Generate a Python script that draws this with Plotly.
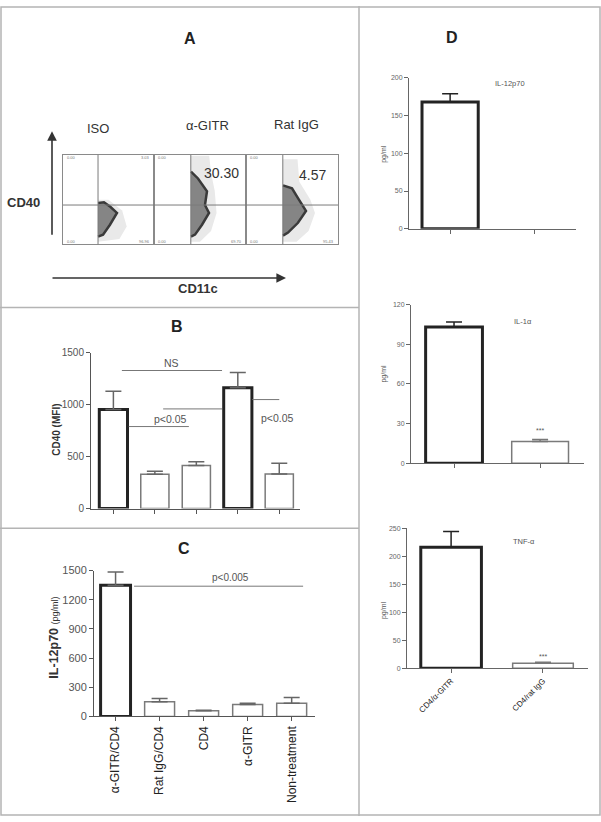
import plotly.graph_objects as go

W, H = 601, 822
FONT = "Liberation Sans, Arial, sans-serif"

# ---------------- data ----------------
# Panel A (flow cytometry) – quadrant percentages and cloud outlines (percent of axis)
flow_names = ["ISO", "α-GITR", "Rat IgG"]
flow_big_labels = ["", "30.30", "4.57"]
flow_tl = ["0.00", "0.00", "0.00"]
flow_tr = ["3.03", "", ""]
flow_bl = ["0.00", "0.00", "0.00"]
flow_br = ["96.96", "69.70", "95.43"]
flow_quad_x = [38.5, 40.0, 40.0]
flow_quad_y = [44.0, 44.0, 44.0]
blob_iso_x = [38.5, 45, 52, 59.3, 51.6, 44, 38.5]
blob_iso_y = [46.2, 47, 42, 35.2, 22, 11, 8.8]
blob_gitr_x = [40.2, 47.8, 57.6, 55.4, 59.8, 52.2, 44.6, 40.2]
blob_gitr_y = [81.3, 73.6, 59.3, 44, 35.2, 22, 11, 8.8]
blob_rat_x = [40.2, 50, 56.5, 65.2, 56.5, 45.7, 40.2]
blob_rat_y = [65.9, 62.6, 51.6, 37.4, 24.2, 13.2, 9.9]
halo_iso_x = [38.5, 50, 65, 70, 62, 38.5]
halo_iso_y = [50, 50, 38, 20, 6, 3]
halo_gitr_x = [40, 60, 62, 66, 68, 62, 50, 40]
halo_gitr_y = [99, 99, 80, 60, 35, 15, 3, 3]
halo_rat_x = [40, 56, 58, 70, 75, 68, 55, 40]
halo_rat_y = [95, 95, 70, 50, 35, 15, 3, 3]

# Panel B
b_values = [955, 330, 415, 1165, 332]
b_err = [175, 30, 35, 145, 105]
b_thick = [True, False, False, True, False]
b_ticks = [0, 500, 1000, 1500]
b_lines_x0 = [0.205, 0.37, 1.2, 3.35]
b_lines_x1 = [2.62, 1.82, 2.62, 4.0]
b_lines_y = [1330, 790, 960, 1050]
b_texts = ["NS", "p<0.05", "p<0.05"]
b_text_x = [1.39, 1.37, 3.95]
b_text_y = [1405, 864, 873]

# Panel C
c_categories = ["α-GITR/CD4", "Rat IgG/CD4", "CD4", "α-GITR", "Non-treatment"]
c_values = [1350, 152, 58, 122, 135]
c_err = [135, 33, 5, 13, 60]
c_thick = [True, False, False, False, False]
c_ticks = [0, 300, 600, 900, 1200, 1500]

# Panel D
d_categories = ["CD4/α-GITR", "CD4/rat IgG"]
d1_values = [168, 0]
d1_err = [11, 0]
d1_ticks = [0, 50, 100, 150, 200]
d2_values = [103, 16.5]
d2_err = [3.8, 1.4]
d2_ticks = [0, 30, 60, 90, 120]
d3_values = [216, 9]
d3_err = [28, 1.5]
d3_ticks = [0, 50, 100, 150, 200, 250]


def dx(a, b):
    return [a / W, b / W]


def dy(top, bottom):
    return [1 - bottom / H, 1 - top / H]


def px(x):
    return x / W


def py(y):
    return 1 - y / H


fig = go.Figure()
annotations = []
shapes = []


def ann(text, x, y, size=12, color="#222", bold=False, xref="paper", yref="paper",
        angle=0, xanchor="center", yanchor="middle"):
    t = f"<b>{text}</b>" if bold else text
    annotations.append(dict(text=t, x=x, y=y, xref=xref, yref=yref, showarrow=False,
                            font=dict(family=FONT, size=size, color=color),
                            textangle=angle, xanchor=xanchor, yanchor=yanchor))


# ---------------- panel borders ----------------
bc = "#b4b4b4"
shapes.append(dict(type="rect", xref="paper", yref="paper", x0=px(1), x1=px(600), y0=py(821), y1=py(1),
                   line=dict(color=bc, width=1.5)))
shapes.append(dict(type="line", xref="paper", yref="paper", x0=px(359), x1=px(359), y0=py(0), y1=py(822),
                   line=dict(color=bc, width=1.5)))
shapes.append(dict(type="line", xref="paper", yref="paper", x0=px(0), x1=px(359), y0=py(306), y1=py(306),
                   line=dict(color=bc, width=1.5)))
shapes.append(dict(type="line", xref="paper", yref="paper", x0=px(0), x1=px(359), y0=py(530), y1=py(530),
                   line=dict(color=bc, width=1.5)))

# ---------------- panel titles ----------------
ann("A", px(190), py(33), size=16, bold=True)
ann("D", px(452), py(32), size=16, bold=True)
ann("B", px(177), py(325), size=16, bold=True)
ann("C", px(184), py(551), size=16, bold=True)

# ---------------- panel A ----------------
flow_x_dom = [(63, 154), (154, 246), (246, 338)]
blobs = [(blob_iso_x, blob_iso_y), (blob_gitr_x, blob_gitr_y), (blob_rat_x, blob_rat_y)]
halos = [(halo_iso_x, halo_iso_y), (halo_gitr_x, halo_gitr_y), (halo_rat_x, halo_rat_y)]
name_pos = [(98, 124), (207, 121), (296, 120)]
big_pos = [(0, 0), (221, 169), (312, 172)]
layout_axes = {}
for i in range(3):
    k = "" if i == 0 else str(i + 1)
    ax_id = "x" + k
    ay_id = "y" + k
    layout_axes["xaxis" + k] = dict(domain=dx(*flow_x_dom[i]), range=[0, 100], anchor=ay_id,
                                    showline=True, mirror=True, linecolor="#8a8a8a", linewidth=1,
                                    showgrid=False, zeroline=False, showticklabels=False, ticks="")
    layout_axes["yaxis" + k] = dict(domain=dy(151, 242), range=[0, 100], anchor=ax_id,
                                    showline=True, mirror=True, linecolor="#8a8a8a", linewidth=1,
                                    showgrid=False, zeroline=False, showticklabels=False, ticks="")
    hx, hy = halos[i]
    fig.add_trace(go.Scatter(x=hx, y=hy, xaxis=ax_id, yaxis=ay_id, fill="toself", mode="lines",
                             line=dict(width=0, color="#e4e4e4"), fillcolor="#e9e9e9", hoverinfo="skip"))
    bx, by = blobs[i]
    fig.add_trace(go.Scatter(x=bx, y=by, xaxis=ax_id, yaxis=ay_id, fill="toself", mode="lines",
                             line=dict(width=2.5, color="#3a3a3a"), fillcolor="#858585", hoverinfo="skip"))
    shapes.append(dict(type="line", xref=ax_id, yref=ay_id, x0=flow_quad_x[i], x1=flow_quad_x[i], y0=0, y1=100,
                       line=dict(color="#7a7a7a", width=1)))
    shapes.append(dict(type="line", xref=ax_id, yref=ay_id, x0=0, x1=100, y0=flow_quad_y[i], y1=flow_quad_y[i],
                       line=dict(color="#7a7a7a", width=1)))
    ann(flow_names[i], px(name_pos[i][0]), py(name_pos[i][1]), size=13, color="#333")
    if flow_big_labels[i]:
        ann(flow_big_labels[i], px(big_pos[i][0]), py(big_pos[i][1]), size=14, color="#333")
    ann(flow_tl[i], 2, 97, size=4, color="#777", xref=ax_id, yref=ay_id, xanchor="left")
    if flow_tr[i]:
        ann(flow_tr[i], 98, 97, size=4, color="#777", xref=ax_id, yref=ay_id, xanchor="right")
    ann(flow_bl[i], 2, 3, size=4, color="#777", xref=ax_id, yref=ay_id, xanchor="left")
    ann(flow_br[i], 98, 3, size=4, color="#777", xref=ax_id, yref=ay_id, xanchor="right")

# arrows
annotations.append(dict(x=px(52), y=py(127), xref="paper", yref="paper", ax=0, ay=105, text="",
                        showarrow=True, arrowhead=2, arrowsize=1.2, arrowwidth=1.6, arrowcolor="#333"))
annotations.append(dict(x=px(286), y=py(276), xref="paper", yref="paper", ax=-235, ay=0, text="",
                        showarrow=True, arrowhead=2, arrowsize=1.2, arrowwidth=1.6, arrowcolor="#333"))
ann("CD40", px(23), py(199), size=13, bold=True, color="#333")
ann("CD11c", px(198), py(287), size=13, bold=True, color="#333")


# ---------------- bar helper ----------------
def add_bars(k, xs, vals, errs, thick, err_colors, width):
    for i in range(len(vals)):
        if thick[i]:
            lc, lw = "#232323", 3
        else:
            lc, lw = "#7a7a7a", 1.5
        err = dict(type="data", array=[errs[i]], arrayminus=[0], symmetric=False,
                   color=err_colors[i], thickness=1.5, width=8, visible=errs[i] > 0)
        if vals[i] <= 0:
            continue
        fig.add_trace(go.Bar(x=[xs[i]], y=[vals[i]], xaxis="x" + k, yaxis="y" + k, width=width,
                             marker=dict(color="white", line=dict(color=lc, width=lw)),
                             error_y=err, hoverinfo="skip"))


def yax(k, dom, rng, ticks, tsize, tcol, xid, ticktext=None):
    layout_axes["yaxis" + k] = dict(domain=dom, range=rng, anchor=xid, showline=True, linecolor=tcol,
                                    linewidth=1, ticks="outside", ticklen=4, tickcolor=tcol,
                                    tickvals=ticks, ticktext=ticktext or [str(t) for t in ticks],
                                    tickfont=dict(family=FONT, size=tsize, color=tcol),
                                    showgrid=False, zeroline=False)


def xax(k, dom, rng, yid, tickvals, ticktext=None, angle=0, tsize=10, tcol="#555", show=False):
    layout_axes["xaxis" + k] = dict(domain=dom, range=rng, anchor=yid, showline=True, linecolor=tcol,
                                    linewidth=1, ticks="outside", ticklen=4, tickcolor=tcol,
                                    tickvals=tickvals, ticktext=ticktext, tickangle=angle,
                                    showticklabels=show, tickfont=dict(family=FONT, size=tsize, color="#222"),
                                    showgrid=False, zeroline=False, type="linear")


# ---------------- panel B ----------------
b_x = list(range(len(b_values)))
add_bars("4", b_x, b_values, b_err, b_thick, ["#666"] * 5, 0.68)
xax("4", dx(91, 300), [-0.54, 4.5], "y4", b_x)
yax("4", dy(352, 510), [0, 1500], b_ticks, 10, "#555", "x4")
for i in range(len(b_lines_y)):
    shapes.append(dict(type="line", xref="x4", yref="y4", x0=b_lines_x0[i], x1=b_lines_x1[i],
                       y0=b_lines_y[i], y1=b_lines_y[i], line=dict(color="#777", width=1)))
for i in range(len(b_texts)):
    ann(b_texts[i], b_text_x[i], b_text_y[i], size=10.5, color="#555", xref="x4", yref="y4")
ann("CD40 (MFI)", px(57), py(430), size=10, bold=True, color="#333", angle=-90)

# ---------------- panel C ----------------
c_x = list(range(len(c_values)))
add_bars("5", c_x, c_values, c_err, c_thick, ["#666"] * 5, 0.68)
xax("5", dx(94, 315), [-0.49, 4.53], "y5", c_x, c_categories, angle=-90, tsize=12, show=True)
yax("5", dy(573, 721), [0, 1500], c_ticks, 11, "#555", "x5")
shapes.append(dict(type="line", xref="x5", yref="y5", x0=0.42, x1=4.26, y0=1340, y1=1340,
                   line=dict(color="#777", width=1)))
ann("p<0.005", 2.6, 1430, size=10, color="#555", xref="x5", yref="y5")
ann("<b>IL-12p70</b> <span style='font-size:9px'>(pg/ml)</span>", px(54), py(641), size=12.5,
    color="#333", angle=-90)

# ---------------- panel D ----------------
d_x = list(range(len(d_categories)))
d_thick = [True, False]
d_errc = ["#222", "#777"]
add_bars("6", d_x, d1_values, d1_err, d_thick, d_errc, 0.67)
xax("6", dx(409, 576), [-0.49, 1.5], "y6", d_x, tcol="#666")
yax("6", dy(73, 226), [0, 200], d1_ticks, 7, "#666", "x6")
ann("IL-12p70", 0.71, 193, size=7.5, color="#555", xref="x6", yref="y6")
ann("pg/ml", px(384), py(150), size=7, color="#555", angle=-90)

add_bars("7", d_x, d2_values, d2_err, d_thick, d_errc, 0.66)
xax("7", dx(411, 584), [-0.5, 1.51], "y7", d_x, tcol="#666")
yax("7", dy(303, 464), [0, 120], d2_ticks, 7, "#666", "x7")
ann("IL-1α", 0.8, 107, size=7.5, color="#555", xref="x7", yref="y7")
ann("***", 1.0, 25, size=7, color="#555", xref="x7", yref="y7")
ann("pg/ml", px(384), py(373), size=7, color="#555", angle=-90)

add_bars("8", d_x, d3_values, d3_err, d_thick, d_errc, 0.66)
xax("8", dx(407, 588), [-0.48, 1.49], "y8", d_x, d_categories, angle=-45, tsize=8, tcol="#666", show=True)
yax("8", dy(530, 672), [0, 250], d3_ticks, 7, "#666", "x8")
ann("TNF-α", 0.79, 227, size=7.5, color="#555", xref="x8", yref="y8")
ann("***", 1.0, 21, size=7, color="#555", xref="x8", yref="y8")
ann("pg/ml", px(384), py(613), size=7, color="#555", angle=-90)

fig.update_layout(width=W, height=H, margin=dict(l=0, r=0, t=0, b=0), showlegend=False,
                  paper_bgcolor="white", plot_bgcolor="white", barmode="overlay",
                  font=dict(family=FONT), annotations=annotations, shapes=shapes, **layout_axes)
fig.write_html("out.html", config={"displayModeBar": False},
               post_script="document.body.style.margin='0';document.body.style.overflow='hidden';")
